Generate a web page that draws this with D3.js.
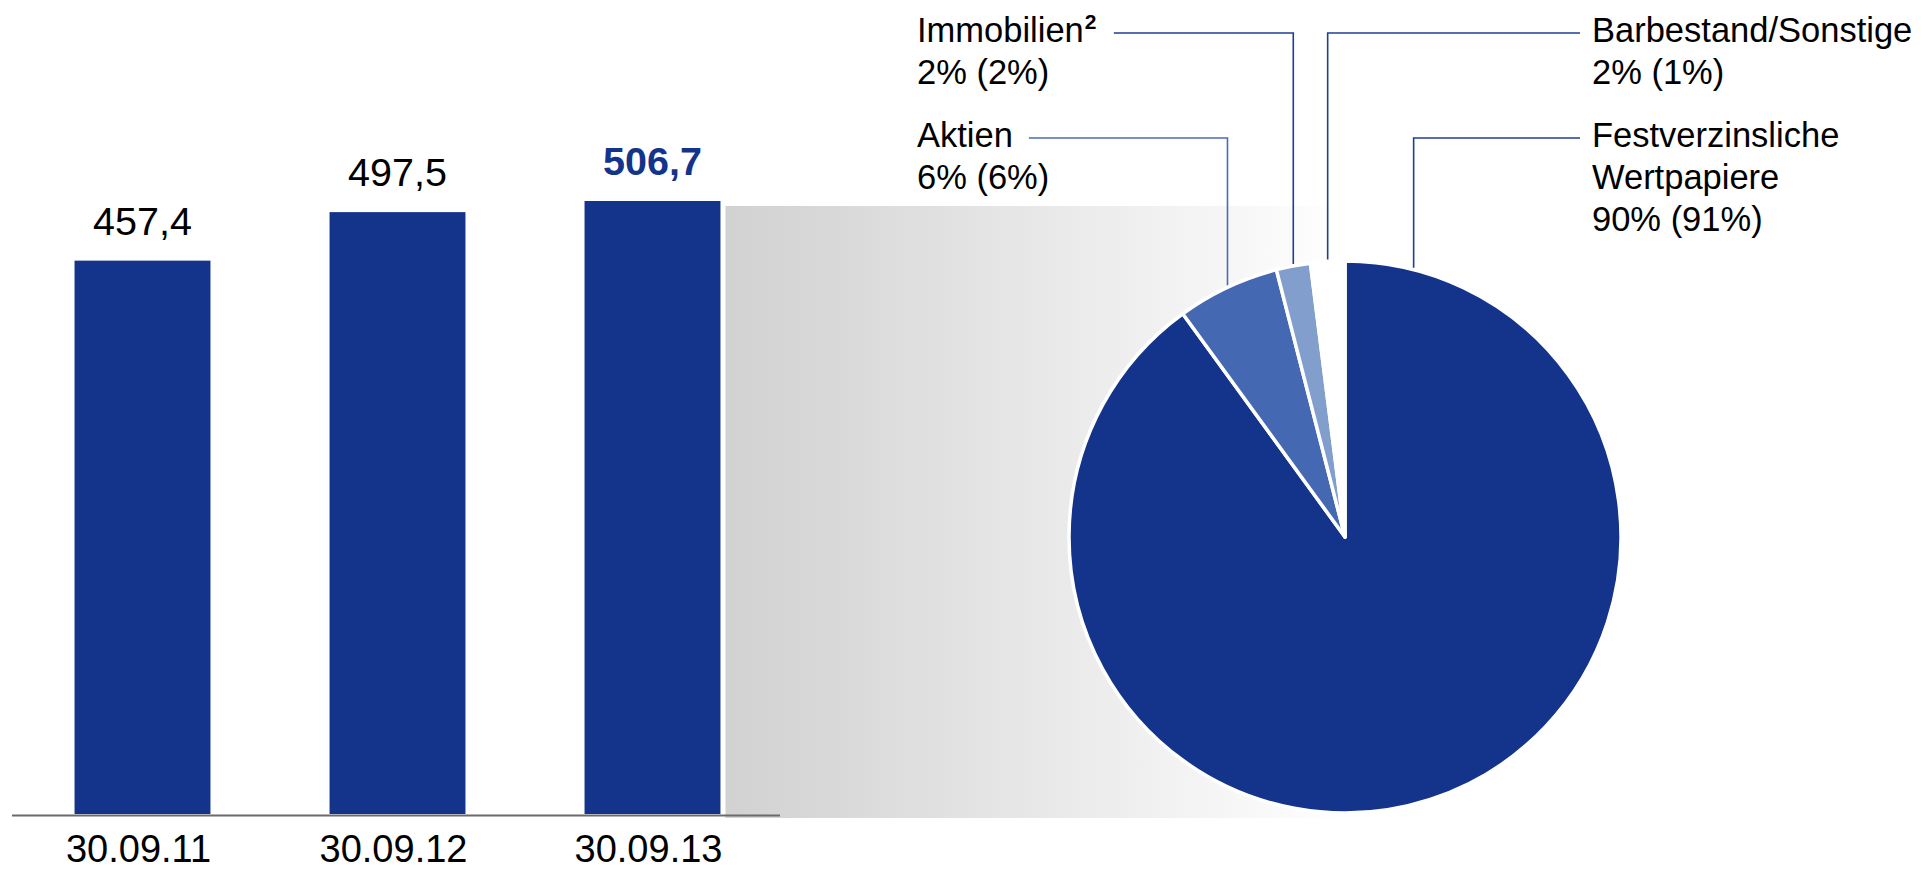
<!DOCTYPE html>
<html>
<head>
<meta charset="utf-8">
<script src="https://cdnjs.cloudflare.com/ajax/libs/d3/7.8.5/d3.min.js"></script>
<style>
	body { margin: 0; background: #fff; }
	svg { display: block; font-family: "Liberation Sans", Arial, sans-serif; }
</style>
</head>
<body>
<svg class="chart" width="1922" height="870"></svg>
<script>

var dates = ["30.09.11", "30.09.12", "30.09.13"];
var volumes = [457.4, 497.5, 506.7];
var volumeLabels = ["457,4", "497,5", "506,7"];

var assetNames = [["Festverzinsliche", "Wertpapiere"], ["Aktien"], ["Immobilien"], ["Barbestand/Sonstige"]];
var assetNotes = ["", "", "2", ""];
var assetShares = [90, 6, 2, 2];
var assetSharesPrev = [91, 6, 2, 1];

var svg = d3.select(".chart"),
		blue = "#13348a",
		sliceColors = [blue, "#4469b2", "#829ecd", "#ffffff"];

var defs = svg.append("defs");
var grad = defs.append("linearGradient")
		.attr("id", "fade")
		.attr("x1", "0%").attr("x2", "100%")
		.attr("y1", "0%").attr("y2", "0%");
grad.append("stop").attr("offset", "0%").attr("stop-color", "#d2d2d2");
grad.append("stop").attr("offset", "12%").attr("stop-color", "#d6d6d6");
grad.append("stop").attr("offset", "100%").attr("stop-color", "#ffffff");

// bars
var x = d3.scaleBand()
		.domain(dates)
		.range([15, 780])
		.paddingInner(0.467)
		.paddingOuter(0.2335);

var y = d3.scaleLinear()
		.domain([0, d3.max(volumes)])
		.range([814, 201]);

// pie geometry
var cx = 1345, cy = 537, radius = 276;

// grey band from last bar to the pie
var last = dates[dates.length - 1];
svg.append("rect")
		.attr("x", x(last) + x.bandwidth() + 5)
		.attr("y", y(volumes[volumes.length - 1]) + 5)
		.attr("width", cx - (x(last) + x.bandwidth() + 5))
		.attr("height", 818 - (y(volumes[volumes.length - 1]) + 5))
		.attr("fill", "url(#fade)");

var bar = svg.selectAll(".bar")
	.data(dates)
	.enter().append("g")
		.attr("class", "bar");

bar.append("rect")
		.attr("x", function(d) { return x(d); })
		.attr("y", function(d, i) { return y(volumes[i]); })
		.attr("width", x.bandwidth())
		.attr("height", function(d, i) { return y(0) - y(volumes[i]); })
		.attr("fill", blue);

bar.append("text")
		.attr("x", function(d) { return x(d) + x.bandwidth() / 2; })
		.attr("y", function(d, i) { return y(volumes[i]) - 26; })
		.attr("text-anchor", "middle")
		.style("font-size", "39.5px")
		.style("font-weight", function(d, i) { return i == dates.length - 1 ? "bold" : "normal"; })
		.attr("fill", function(d, i) { return i == dates.length - 1 ? blue : "#000"; })
		.text(function(d, i) { return volumeLabels[i]; });

svg.append("line")
		.attr("x1", 12).attr("x2", 780)
		.attr("y1", 815.5).attr("y2", 815.5)
		.attr("stroke", "#6b6b6b")
		.attr("stroke-width", 2);

var xAxis = svg.append("g")
		.attr("transform", "translate(-4,862)")
		.call(d3.axisBottom(x).tickSize(0).tickPadding(0));
xAxis.select(".domain").remove();
xAxis.selectAll("text")
		.attr("dy", 0)
		.style("font-family", "\"Liberation Sans\", Arial, sans-serif")
		.style("font-size", "38px")
		.attr("fill", "#000");

// pie
var pie = d3.pie().sort(null).value(function(d) { return d; });
var arcs = pie(assetShares);
var arc = d3.arc().innerRadius(0).outerRadius(radius);

svg.append("g")
		.attr("transform", "translate(" + cx + "," + cy + ")")
	.selectAll("path")
	.data(arcs)
	.enter().append("path")
		.attr("d", arc)
		.attr("fill", function(d, i) { return sliceColors[i]; })
		.attr("stroke", "#fff")
		.attr("stroke-width", 3.5)
		.attr("stroke-linejoin", "round");

// labels with leader lines
var labelSide = ["right", "left", "left", "right"],
		labelRow = [138, 138, 33, 33],
		leaderColor = ["#1f3f96", "#4a6cb5", "#1f3f96", "#1f3f96"];

arcs.forEach(function(a, i) {
	var ang = i == 0 ? a.startAngle + 0.04 * 2 * Math.PI : (a.startAngle + a.endAngle) / 2,
			ax = cx + radius * Math.sin(ang),
			edgeY = cy - Math.sqrt(radius * radius - (ax - cx) * (ax - cx)) - 2,
			ly = labelRow[i],
			tx = labelSide[i] == "left" ? 917 : 1592;

	var lines = assetNames[i].concat([assetShares[i] + "% (" + assetSharesPrev[i] + "%)"]);
	var t = svg.append("text")
			.attr("x", tx)
			.attr("y", ly + 8.5)
			.style("font-size", "34.5px")
			.attr("fill", "#000");
	t.selectAll("tspan")
		.data(lines)
		.enter().append("tspan")
			.attr("x", tx)
			.attr("dy", function(d, j) { return j == 0 ? 0 : 42; })
			.text(function(d) { return d; });

	var first = t.select("tspan").node(),
			textEnd = tx + first.getComputedTextLength();

	if (assetNotes[i]) {
		svg.append("text")
				.attr("x", textEnd + 1)
				.attr("y", ly - 4)
				.style("font-size", "21px")
				.style("font-weight", "bold")
				.attr("fill", "#000")
				.text(assetNotes[i]);
		textEnd += 14;
	}

	var startX = labelSide[i] == "left" ? textEnd + 16 : 1580;
	svg.append("path")
			.attr("d", "M" + startX + "," + ly + "H" + ax + "V" + edgeY)
			.attr("fill", "none")
			.attr("stroke", leaderColor[i])
			.attr("stroke-width", 1.6);
});

</script>
</body>
</html>
